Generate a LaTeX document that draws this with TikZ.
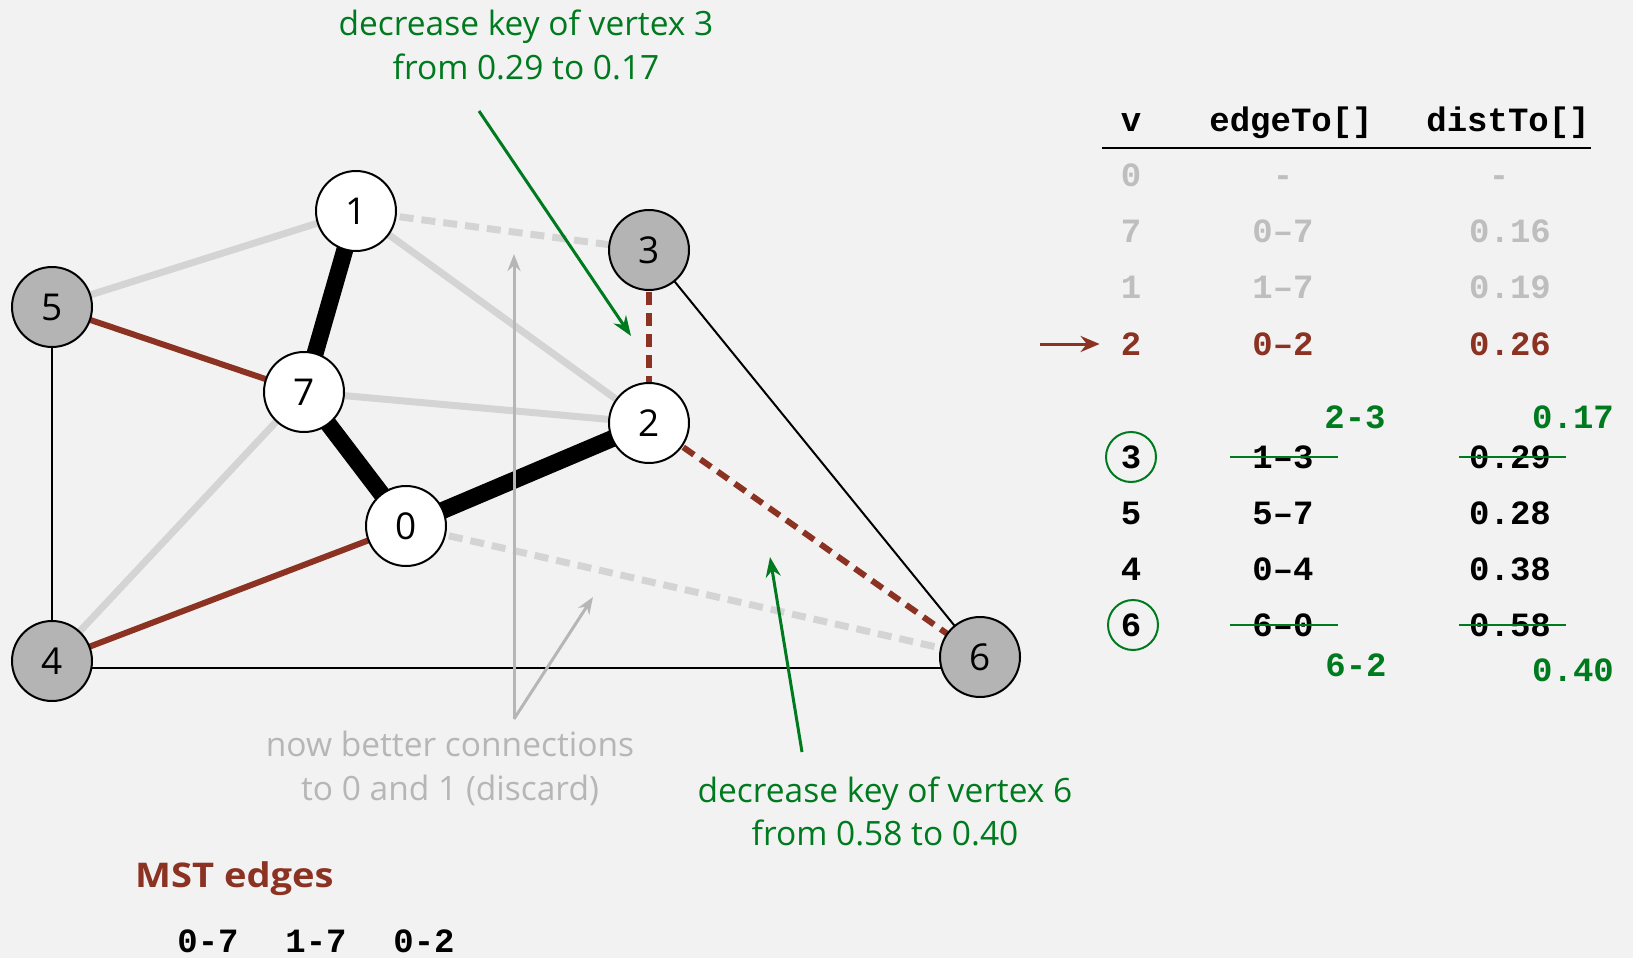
\documentclass[tikz,border=0pt]{standalone}
\usepackage{fontspec}
\setmainfont{Open Sans}
\newfontfamily\tblfont{Liberation Mono}
\usetikzlibrary{arrows.meta}
\definecolor{bgc}{RGB}{242,242,242}
\definecolor{grn}{RGB}{0,122,30}
\definecolor{brn}{RGB}{139,50,34}
\definecolor{lgr}{RGB}{212,212,212}
\definecolor{ngr}{RGB}{180,180,180}
\definecolor{tgr}{RGB}{190,190,190}
\definecolor{agr}{RGB}{182,182,182}
\pgfdeclarelayer{back}
\pgfdeclarelayer{bg}
\pgfsetlayers{back,bg,main}
\tikzset{
  vtx/.style={circle, draw=black, line width=2pt, minimum size=80pt, inner sep=0pt, font=\fontsize{37}{37}\selectfont},
  wv/.style={vtx, fill=white},
  gv/.style={vtx, fill=ngr},
  mstedge/.style={line width=17pt, black},
  candedge/.style={line width=6pt, brn},
  newedge/.style={line width=6pt, brn, dash pattern=on 13pt off 8pt},
  oldedge/.style={line width=7pt, lgr},
  olddash/.style={line width=7pt, lgr, dash pattern=on 14pt off 8pt},
  thinedge/.style={line width=2pt, black},
  note/.style={font=\fontsize{33.5}{44}\selectfont, inner sep=0pt, anchor=base},
  cell/.style={font=\tblfont\bfseries\fontsize{34}{34}\selectfont, inner sep=0pt, text height=23pt, text depth=0pt, anchor=center},
  garr/.style={grn, line width=3pt, -{Stealth[length=20pt,width=15pt]}},
  grarr/.style={agr, line width=3pt, -{Stealth[length=17pt,width=13pt]}},
  strike/.style={grn, line width=2.5pt},
  ring/.style={grn, line width=2pt},
}
\begin{document}
\begin{tikzpicture}[x=1pt,y=-1pt]
\useasboundingbox (0,0) rectangle (1633,958);
\begin{pgfonlayer}{back}
\fill[bgc] (0,0) rectangle (1633,958);
\end{pgfonlayer}

% vertices
\node[wv] (n1) at (356,211) {1};
\node[gv] (n3) at (649,250) {3};
\node[gv] (n5) at (52,307) {5};
\node[wv] (n7) at (304,392) {7};
\node[wv] (n2) at (649,423) {2};
\node[wv] (n0) at (406,526) {0};
\node[gv] (n4) at (52,661) {4};
\node[gv] (n6) at (980,657) {6};

\begin{pgfonlayer}{bg}
\draw[oldedge] (n1.center) -- (n5.center);
\draw[oldedge] (n1.center) -- (n2.center);
\draw[oldedge] (n7.center) -- (n2.center);
\draw[oldedge] (n7.center) -- (n4.center);
\draw[olddash] (n1.center) -- (n3.center);
\draw[olddash] (n0.center) -- (n6.center);
\draw[thinedge] (n5.center) -- (n4.center);
\draw[thinedge] ([yshift=-7pt]n4.center) -- ([yshift=-11pt]n6.center);
\draw[thinedge] (n3.center) -- (n6.center);
\draw[candedge] (n5.center) -- (n7.center);
\draw[candedge] (n0.center) -- (n4.center);
\draw[newedge] (n3.center) -- (n2.center);
\draw[newedge] (n2.center) -- (n6.center);
\draw[mstedge] (n1.center) -- (n7.center);
\draw[mstedge] (n7.center) -- (n0.center);
\draw[mstedge] (n0.center) -- (n2.center);
\end{pgfonlayer}

% annotations
\node[note, text=grn] (a3a) at (526,36) {decrease key of vertex 3};
\node[note, text=grn] (a3b) at (526,80) {from 0.29 to 0.17};
\coordinate (g1s) at (479,111);
\coordinate (g1e) at (631,336);
\draw[garr] (g1s) -- (g1e);

\node[note, text=agr] (dca) at (450,756) {now better connections};
\node[note, text=agr] (dcb) at (450,800) {to 0 and 1 (discard)};
\coordinate (gsrc) at (514,719);
\coordinate (gt1) at (514,254);
\coordinate (gt2) at (593,597);
\draw[grarr] (gsrc) -- (gt1);
\draw[grarr] (gsrc) -- (gt2);

\node[note, text=grn] (a6a) at (885,802) {decrease key of vertex 6};
\node[note, text=grn] (a6b) at (885,845) {from 0.58 to 0.40};
\coordinate (g2s) at (802,752);
\coordinate (g2e) at (770,557);
\draw[garr] (g2s) -- (g2e);

\node[note, anchor=base west, text=brn, font=\bfseries\fontsize{34}{34}\selectfont\addfontfeature{FakeStretch=1.12}] (mst) at (135,887) {MST edges};
\node[cell] (m1) at (208,941) {0-7};
\node[cell] (m2) at (316,941) {1-7};
\node[cell] (m3) at (424,941) {0-2};

% table
\node[cell] (hv) at (1131,120) {v};
\node[cell] (he) at (1291,120) {edgeTo[]};
\node[cell] (hd) at (1508,120) {distTo[]};
\draw[line width=2pt] (1102,148) -- (1591,148);

\node[cell, text=tgr] (r0v) at (1131,175) {0};
\node[cell, text=tgr] (r0e) at (1283,175) {-};
\node[cell, text=tgr] (r0d) at (1499,175) {-};
\node[cell, text=tgr] (r7v) at (1131,231) {7};
\node[cell, text=tgr] (r7e) at (1283,231) {0–7};
\node[cell, text=tgr] (r7d) at (1510,231) {0.16};
\node[cell, text=tgr] (r1v) at (1131,287) {1};
\node[cell, text=tgr] (r1e) at (1283,287) {1–7};
\node[cell, text=tgr] (r1d) at (1510,287) {0.19};
\node[cell, text=brn] (r2v) at (1131,344) {2};
\node[cell, text=brn] (r2e) at (1283,344) {0–2};
\node[cell, text=brn] (r2d) at (1510,344) {0.26};
\coordinate (ta) at (1040,344);
\draw[brn, line width=3pt, -{Stealth[length=19pt,width=16pt]}, shorten >=21pt] (ta) -- (r2v.west);

\node[cell, text=grn] (u3e) at (1355,417) {2-3};
\node[cell, text=grn] (u3d) at (1573,417) {0.17};
\node[cell] (r3v) at (1131,457) {3};
\node[cell] (r3e) at (1283,457) {1–3};
\node[cell] (r3d) at (1510,457) {0.29};
\node[cell] (r5v) at (1131,513) {5};
\node[cell] (r5e) at (1283,513) {5–7};
\node[cell] (r5d) at (1510,513) {0.28};
\node[cell] (r4v) at (1131,569) {4};
\node[cell] (r4e) at (1283,569) {0–4};
\node[cell] (r4d) at (1510,569) {0.38};
\node[cell] (r6v) at (1131,625) {6};
\node[cell] (r6e) at (1283,625) {6–0};
\node[cell] (r6d) at (1510,625) {0.58};
\node[cell, text=grn] (u6e) at (1356,665) {6-2};
\node[cell, text=grn] (u6d) at (1573,670) {0.40};

\draw[ring] (r3v) circle (25pt);
\draw[ring] ([xshift=2pt]r6v.center) circle (25pt);
\draw[strike] ([xshift=-53pt]r3e.center) -- ([xshift=55pt]r3e.center);
\draw[strike] ([xshift=-51pt]r3d.center) -- ([xshift=56pt]r3d.center);
\draw[strike] ([xshift=-53pt]r6e.center) -- ([xshift=55pt]r6e.center);
\draw[strike] ([xshift=-51pt]r6d.center) -- ([xshift=56pt]r6d.center);
\end{tikzpicture}
\end{document}
